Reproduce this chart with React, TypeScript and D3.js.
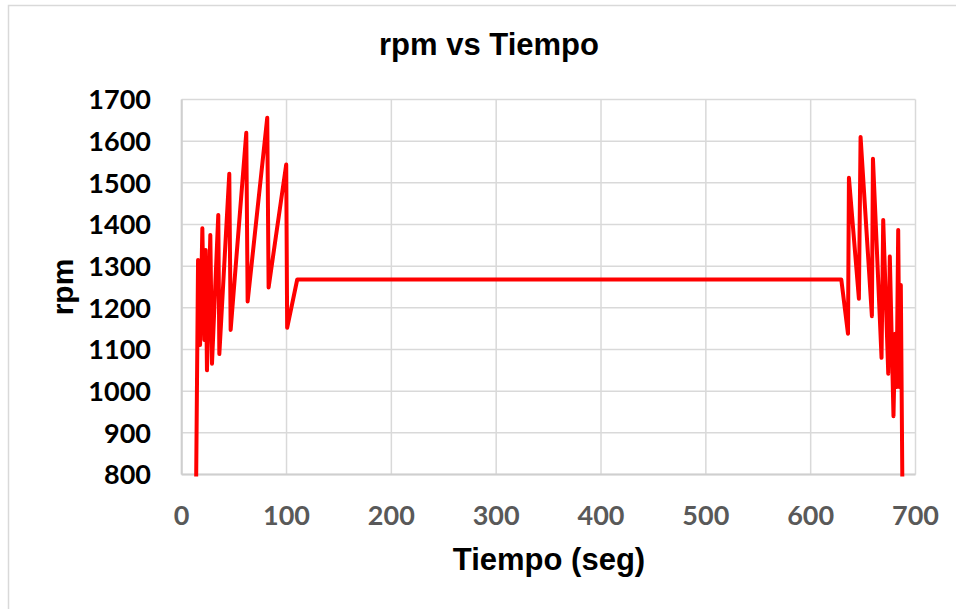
import React, { useEffect, useRef } from 'react';
import * as d3 from 'd3';

// tiempo (seg) y rpm
const tiempo = [
  13.7, 15.6, 17.5, 19.7, 21.6, 22.9, 24.1, 27.3, 28.9, 34.9, 35.9, 45.4, 46.7,
  61.6, 62.9, 81.6, 82.9, 99.7, 100.6, 110.2,
  629.2, 635.6, 636.5, 646, 647.6, 658.4, 659.4, 667.6, 669.2, 674, 675.5,
  679, 680.6, 682, 683.5, 684.8, 686, 687.5
];
const rpm = [
  760, 1315, 1111, 1391, 1123, 1339, 1050, 1375, 1066, 1423, 1089, 1522, 1147,
  1620, 1215, 1656, 1249, 1544, 1152, 1268,
  1268, 1138, 1512, 1222, 1610, 1180, 1558, 1080, 1411, 1042, 1323,
  940, 1138, 1010, 1387, 1010, 1255, 770
];
const xTicks = [0, 100, 200, 300, 400, 500, 600, 700];
const yTicks = [800, 900, 1000, 1100, 1200, 1300, 1400, 1500, 1600, 1700];

const App = () => {
  const ref = useRef<SVGSVGElement>(null);

  useEffect(() => {
    const svg = d3.select(ref.current);
    svg.selectAll('*').remove();
    const width = 956;
    const height = 609;

    // marco del grafico
    svg.append('rect')
      .attr('x', 8.5).attr('y', 5.5)
      .attr('width', 1000).attr('height', 700)
      .attr('fill', '#fff')
      .attr('stroke', '#d9d9d9')
      .attr('stroke-width', 1.5);

    const x = d3.scaleLinear().domain([0, 700]).range([181.7, 915.5]);
    const y = d3.scaleLinear().domain([800, 1700]).range([474.5, 99.5]);

    // rejilla
    svg.append('g').selectAll('line').data(xTicks).enter().append('line')
      .attr('x1', d => x(d)).attr('x2', d => x(d))
      .attr('y1', y(1700)).attr('y2', y(800))
      .attr('stroke', '#d9d9d9').attr('stroke-width', 1.5);
    svg.append('g').selectAll('line').data(yTicks).enter().append('line')
      .attr('x1', x(0)).attr('x2', x(700))
      .attr('y1', d => y(d)).attr('y2', d => y(d))
      .attr('stroke', '#d9d9d9').attr('stroke-width', 1.5);

    // ejes
    svg.append('line')
      .attr('x1', x(0)).attr('x2', x(700)).attr('y1', y(800)).attr('y2', y(800))
      .attr('stroke', '#cfcfcf').attr('stroke-width', 2);
    svg.append('line')
      .attr('x1', x(0)).attr('x2', x(0)).attr('y1', y(1700)).attr('y2', y(800))
      .attr('stroke', '#cfcfcf').attr('stroke-width', 2);

    // etiquetas
    svg.append('g').selectAll('text').data(yTicks).enter().append('text')
      .text(d => d)
      .attr('x', 151)
      .attr('y', d => y(d))
      .attr('dy', '0.36em')
      .attr('text-anchor', 'end')
      .attr('font-family', 'Lato, sans-serif')
      .attr('font-weight', 'bold')
      .attr('font-size', 27)
      .attr('fill', '#000');
    svg.append('g').selectAll('text').data(xTicks).enter().append('text')
      .text(d => d)
      .attr('x', d => x(d))
      .attr('y', 525)
      .attr('text-anchor', 'middle')
      .attr('font-family', 'Lato, sans-serif')
      .attr('font-weight', 'bold')
      .attr('font-size', 27)
      .attr('fill', '#595959');

    // linea
    svg.append('clipPath').attr('id', 'plotClip')
      .append('rect')
      .attr('x', x(0)).attr('y', y(1700) - 5)
      .attr('width', x(700) - x(0)).attr('height', y(800) - y(1700) + 7);

    const pts = tiempo.map((t, i) => [t, rpm[i]] as [number, number]);
    const line = d3.line<[number, number]>()
      .x(d => x(d[0]))
      .y(d => y(d[1]));
    svg.append('path')
      .datum(pts)
      .attr('clip-path', 'url(#plotClip)')
      .attr('d', line)
      .attr('fill', 'none')
      .attr('stroke', '#ff0000')
      .attr('stroke-width', 4)
      .attr('stroke-linejoin', 'round');

    // titulos
    svg.append('text')
      .text('rpm vs Tiempo')
      .attr('x', 489).attr('y', 55)
      .attr('text-anchor', 'middle')
      .attr('font-family', 'Arial, "Liberation Sans", sans-serif')
      .attr('font-weight', 'bold')
      .attr('font-size', 31)
      .attr('fill', '#000');
    svg.append('text')
      .text('Tiempo (seg)')
      .attr('x', 549).attr('y', 570)
      .attr('text-anchor', 'middle')
      .attr('font-family', 'Arial, "Liberation Sans", sans-serif')
      .attr('font-weight', 'bold')
      .attr('font-size', 31)
      .attr('fill', '#000');
    svg.append('text')
      .text('rpm')
      .attr('transform', 'translate(73,287) rotate(-90)')
      .attr('text-anchor', 'middle')
      .attr('font-family', 'Arial, "Liberation Sans", sans-serif')
      .attr('font-weight', 'bold')
      .attr('font-size', 30)
      .attr('fill', '#000');

    svg.attr('width', width).attr('height', height);
  }, []);

  return (
    <svg ref={ref} width={956} height={609}
      style={{ position: 'absolute', left: 0, top: 0, background: '#fff' }} />
  );
};

export default App;
